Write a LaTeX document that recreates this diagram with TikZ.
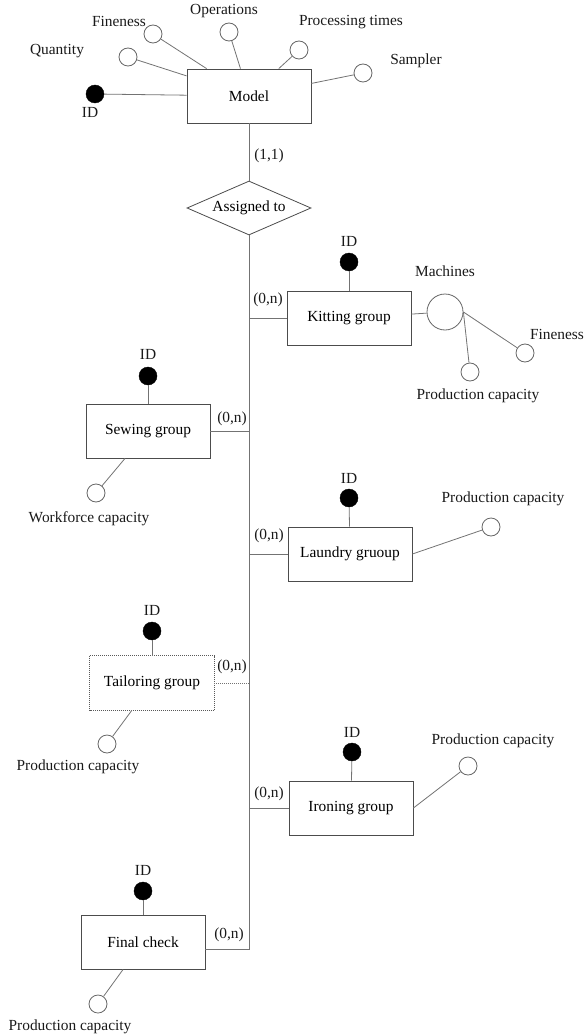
\documentclass[tikz,border=0pt]{standalone}
\usepackage{fontspec}
\setmainfont{Liberation Serif}
\usetikzlibrary{shapes.geometric}

\tikzset{
    entity/.style={draw=black!70, line width=0.8pt, minimum width=124pt, minimum height=54pt, inner sep=0pt},
    relation/.style={diamond, draw=black!70, line width=0.8pt, minimum width=124pt, minimum height=54pt, inner sep=0pt, aspect=2.3},
    attr/.style={circle, draw=black!60, line width=0.8pt, fill=white, minimum size=18pt, inner sep=0pt},
    keyattr/.style={circle, fill=black, draw=black, minimum size=18pt, inner sep=0pt},
    wire/.style={draw=black!55, line width=0.8pt},
    txt/.style={inner sep=0pt, text=black!90}
}

\begin{document}
\begin{tikzpicture}[x=1pt, y=-1pt, font=\fontsize{15.4}{18}\selectfont]
                \useasboundingbox (0,0) rectangle (584,1035);
                % Model and its attributes:
                \node[entity](model) at (249,96){Model};
                \node[keyattr](modelid) at (95,94){};
                \node[txt](modelidl) at (90,112){ID};
                \node[attr](qty) at (128,57){};
                \node[txt](qtyl) at (57,51){Quantity};
                \node[attr](fin) at (153,34){};
                \node[txt](finl) at (119,21){Fineness};
                \node[attr](ops) at (229,32){};
                \node[txt](opsl) at (224,11){Operations};
                \node[attr](proc) at (299,50){};
                \node[txt](procl) at (351,22){Processing times};
                \node[attr](samp) at (363,73){};
                \node[txt](sampl) at (416,61){Sampler};
                \draw[wire] (modelid) -- (model);
                \draw[wire] (qty) -- (model);
                \draw[wire] (fin) -- (model);
                \draw[wire] (ops) -- (model);
                \draw[wire] (proc) -- (model);
                \draw[wire] (samp) -- (model);
                % Relationship:
                \node[relation](assign) at (249,208){Assigned to};
                \draw[wire] (model) -- (assign);
                \node[txt](card1) at (269,156){(1,1)};
                % Groups:
                \node[entity](kit) at (349,318){Kitting group};
                \node[entity](sew) at (148,431){Sewing group};
                \node[entity](laund) at (350,554){Laundry gruoup};
                \node[entity, draw=none](tail) at (152,683){Tailoring group};
                \draw[black!65, line width=0.8pt, dash pattern=on 1pt off 1pt] (tail.north west) rectangle (tail.south east);
                \node[entity](iron) at (351,808){Ironing group};
                \node[entity](final) at (143,942){Final check};
                % Paths, nodes and wires:
                \draw[wire] (assign.south) |- ([yshift=-7pt]final.east);
                \draw[wire] (kit.west) -- (kit.west -| assign.south);
                \draw[wire] (sew.east) -- (sew.east -| assign.south);
                \draw[wire] (laund.west) -- (laund.west -| assign.south);
                \draw[wire, dash pattern=on 1pt off 1pt] (tail.east) -- (tail.east -| assign.south);
                \draw[wire] (iron.west) -- (iron.west -| assign.south);
                \node[txt](cardk) at (268,300){(0,n)};
                \node[txt](cards) at (232,419){(0,n)};
                \node[txt](cardl) at (269,536){(0,n)};
                \node[txt](cardt) at (232,667){(0,n)};
                \node[txt](cardi) at (269,794){(0,n)};
                \node[txt](cardf) at (229,935){(0,n)};
                % Kitting group:
                \node[keyattr](kitid) at (349,262){};
                \node[txt](kitidl) at (349,241){ID};
                \node[attr, minimum size=36pt](mach) at (445,312){};
                \node[txt](machl) at (445,271){Machines};
                \node[attr](machfin) at (525,353){};
                \node[txt](machfinl) at (557,334){Fineness};
                \node[attr](machpc) at (470,372){};
                \node[txt](machpcl) at (478,396){Production capacity};
                \draw[wire] (kitid) -- (kit);
                \draw[wire] (kit) -- (mach);
                \draw[wire] (mach.east) -- (machfin);
                \draw[wire] (mach.east) -- (machpc);
                % Sewing group:
                \node[keyattr](sewid) at (148,376){};
                \node[txt](sewidl) at (148,354){ID};
                \node[attr](sewwf) at (96,493){};
                \node[txt](sewwfl) at (89,519){Workforce capacity};
                \draw[wire] (sewid) -- (sew);
                \draw[wire] (sewwf) -- (sew);
                % Laundry group:
                \node[keyattr](laundid) at (349,498){};
                \node[txt](laundidl) at (349,478){ID};
                \node[attr](laundpc) at (491,527){};
                \node[txt](laundpcl) at (503,499){Production capacity};
                \draw[wire] (laundid) -- (laund);
                \draw[wire] (laund.east) -- (laundpc);
                % Tailoring group:
                \node[keyattr](tailid) at (152,631){};
                \node[txt](tailidl) at (152,610){ID};
                \node[attr](tailpc) at (107,744){};
                \node[txt](tailpcl) at (78,767){Production capacity};
                \draw[wire] (tailid) -- (tail);
                \draw[wire] (tailpc) -- (tail);
                % Ironing group:
                \node[keyattr](ironid) at (352,752){};
                \node[txt](ironidl) at (352,732){ID};
                \node[attr](ironpc) at (468,766){};
                \node[txt](ironpcl) at (493,741){Production capacity};
                \draw[wire] (ironid) -- (iron);
                \draw[wire] (iron.east) -- (ironpc);
                % Final check:
                \node[keyattr](finalid) at (143,891){};
                \node[txt](finalidl) at (143,870){ID};
                \node[attr](finalpc) at (98,1004){};
                \node[txt](finalpcl) at (70,1027){Production capacity};
                \draw[wire] (finalid) -- (final);
                \draw[wire] (finalpc) -- (final);
            \end{tikzpicture}
\end{document}
